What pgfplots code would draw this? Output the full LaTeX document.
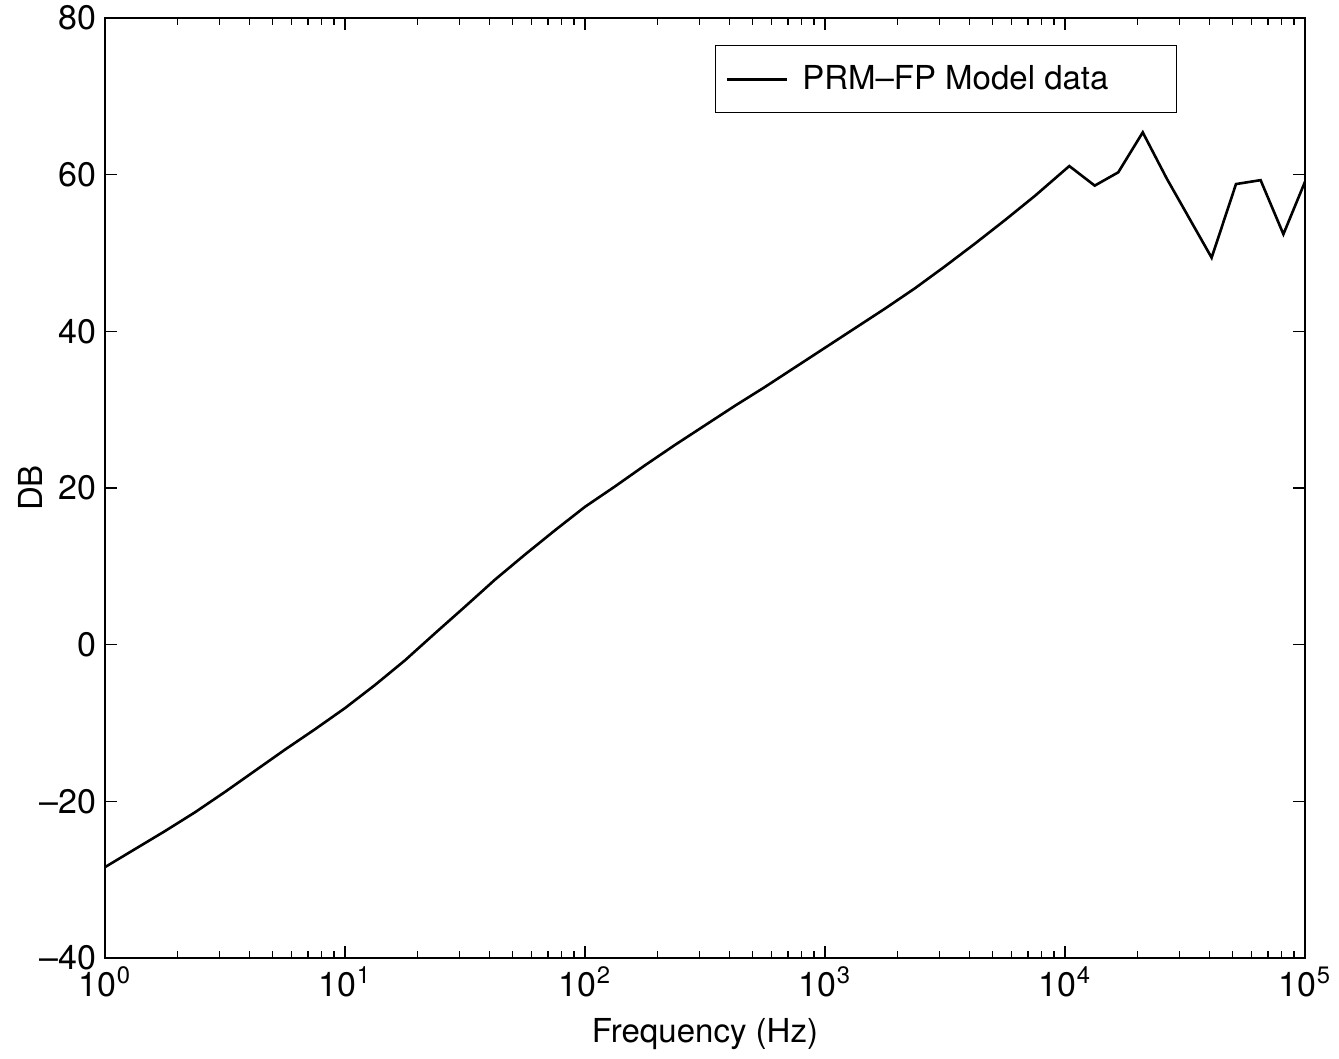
\documentclass[border=0pt]{standalone}
\usepackage{pgfplots}
\pgfplotsset{compat=1.18}
\usepackage{fontspec}
\setmainfont{TeX Gyre Heros}
\pgfplotstableread{
f db
1 -28.4
1.3335 -26.1
1.7783 -23.8
2.3714 -21.4
3.1623 -18.8
4.2170 -16.1
5.6234 -13.4
7.4989 -10.8
10 -8.1
13.335 -5.15
17.783 -2.0
23.714 1.45
31.623 4.85
42.170 8.3
56.234 11.5
74.989 14.6
100 17.6
133.35 20.2
177.83 22.9
237.14 25.5
316.23 28.0
421.70 30.5
562.34 32.9
749.89 35.4
1000 37.9
1333.5 40.4
1778.3 42.9
2371.4 45.5
3162.3 48.3
4217.0 51.2
5623.4 54.2
7498.9 57.3
10423 61.1
13300 58.6
16672 60.3
21086 65.4
26546 59.5
40832 49.4
51582 58.8
65313 59.3
81283 52.4
100000 59.1
}\data
\begin{document}
\begin{tikzpicture}
\begin{axis}[
  width=600pt, height=470pt, scale only axis,
  xmode=log, xmin=1, xmax=100000,
  ymin=-40, ymax=80, ytick={-40,-20,0,20,40,60,80},
  yticklabels={--40,--20,0,20,40,60,80},
  xtick={1,10,100,1000,10000,100000},
  xticklabels={10\textsuperscript{0},10\textsuperscript{1},10\textsuperscript{2},10\textsuperscript{3},10\textsuperscript{4},10\textsuperscript{5}},
  /pgf/number format/assume math mode=true,
  tick label style={font=\fontsize{17}{19}\selectfont},
  xticklabel style={yshift=-1pt},
  yticklabel style={xshift=-1pt},
  label style={font=\fontsize{16.5}{19}\selectfont},
  xlabel={Frequency (Hz)}, ylabel={DB},
  xlabel style={yshift=-4pt},
  ylabel style={at={(axis description cs:-0.0625,0.5)}, anchor=center},
  major tick length=6pt, minor tick length=3.5pt,
  axis line style={line width=0.9pt},
  every tick/.style={black, line width=0.7pt},
  legend style={at={(0.8933,0.9713)}, anchor=north east, draw=black, line width=0.7pt,
    font=\fontsize{16.5}{19}\selectfont, inner xsep=5pt, inner ysep=8pt, cells={anchor=west}},
  legend image code/.code={\draw[#1] (0pt,0pt) -- (30pt,0pt);},
]
\addplot[black, line width=1.3pt] table[x=f, y=db] {\data};
\addlegendentry{\makebox[185pt][l]{\hspace{5pt}PRM--FP Model data}}
\end{axis}
\pgfresetboundingbox
\path[use as bounding box] ([xshift=-52.5pt,yshift=-50.5pt]current axis.south west) rectangle ([xshift=17pt,yshift=9pt]current axis.north east);
\end{tikzpicture}
\end{document}
